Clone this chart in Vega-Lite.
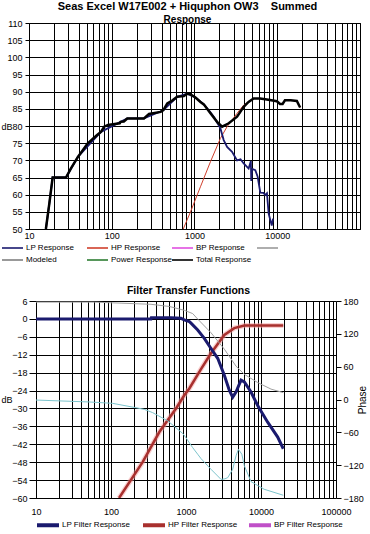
{
  "$schema": "https://vega.github.io/schema/vega-lite/v6.json",
  "padding": 0,
  "background": "white",
  "config": {
    "font": "Liberation Sans",
    "view": {"stroke": "black", "strokeWidth": 1},
    "axis": {
      "labelColor": "black", "tickColor": "black", "domainColor": "black",
      "gridColor": "black", "gridOpacity": 1, "gridWidth": 1,
      "titleColor": "black", "labelFont": "Liberation Sans", "titleFont": "Liberation Sans",
      "labelFontSize": 9, "titleFontWeight": "normal", "labelOverlap": false, "labelFlush": false
    },
    "legend": {"labelColor": "black", "labelFont": "Liberation Sans"},
    "title": {"color": "black", "subtitleColor": "black", "font": "Liberation Sans", "subtitleFont": "Liberation Sans"}
  },
  "datasets": {
    "resp": [
      {"s": "Total Response", "f": 16, "v": 50},
      {"s": "Total Response", "f": 17.6, "v": 57.4},
      {"s": "Total Response", "f": 19.3, "v": 65},
      {"s": "Total Response", "f": 28, "v": 65},
      {"s": "Total Response", "f": 32, "v": 67.6},
      {"s": "Total Response", "f": 39, "v": 71},
      {"s": "Total Response", "f": 51, "v": 74.9},
      {"s": "Total Response", "f": 66, "v": 77.3},
      {"s": "Total Response", "f": 74, "v": 78.3},
      {"s": "Total Response", "f": 81, "v": 79.8},
      {"s": "Total Response", "f": 90, "v": 80.3},
      {"s": "Total Response", "f": 125, "v": 80.8},
      {"s": "Total Response", "f": 128, "v": 81.2},
      {"s": "Total Response", "f": 140, "v": 81.3},
      {"s": "Total Response", "f": 154, "v": 82.2},
      {"s": "Total Response", "f": 245, "v": 82.2},
      {"s": "Total Response", "f": 282, "v": 83.5},
      {"s": "Total Response", "f": 390, "v": 84.1},
      {"s": "Total Response", "f": 420, "v": 84.6},
      {"s": "Total Response", "f": 469, "v": 86.6},
      {"s": "Total Response", "f": 538, "v": 87.4},
      {"s": "Total Response", "f": 617, "v": 88.5},
      {"s": "Total Response", "f": 743, "v": 88.7},
      {"s": "Total Response", "f": 813, "v": 89.4},
      {"s": "Total Response", "f": 880, "v": 89.3},
      {"s": "Total Response", "f": 1028, "v": 88.3},
      {"s": "Total Response", "f": 1180, "v": 87.0},
      {"s": "Total Response", "f": 1295, "v": 86.3},
      {"s": "Total Response", "f": 1559, "v": 83.7},
      {"s": "Total Response", "f": 1875, "v": 81.2},
      {"s": "Total Response", "f": 2156, "v": 79.8},
      {"s": "Total Response", "f": 2594, "v": 80.8},
      {"s": "Total Response", "f": 3269, "v": 82.7},
      {"s": "Total Response", "f": 3930, "v": 85.6},
      {"s": "Total Response", "f": 4500, "v": 87.0},
      {"s": "Total Response", "f": 5180, "v": 88.0},
      {"s": "Total Response", "f": 6200, "v": 88.0},
      {"s": "Total Response", "f": 7510, "v": 87.7},
      {"s": "Total Response", "f": 9900, "v": 87.2},
      {"s": "Total Response", "f": 10800, "v": 86.4},
      {"s": "Total Response", "f": 11600, "v": 86.4},
      {"s": "Total Response", "f": 12400, "v": 87.5},
      {"s": "Total Response", "f": 14500, "v": 87.5},
      {"s": "Total Response", "f": 17250, "v": 87.3},
      {"s": "Total Response", "f": 18900, "v": 85.4},

      {"s": "LP Response", "f": 16, "v": 50},
      {"s": "LP Response", "f": 17.6, "v": 57.4},
      {"s": "LP Response", "f": 19.3, "v": 65},
      {"s": "LP Response", "f": 28, "v": 65},
      {"s": "LP Response", "f": 39, "v": 71},
      {"s": "LP Response", "f": 74, "v": 78.3},
      {"s": "LP Response", "f": 154, "v": 82.2},
      {"s": "LP Response", "f": 245, "v": 82.2},
      {"s": "LP Response", "f": 420, "v": 84.6},
      {"s": "LP Response", "f": 617, "v": 88.5},
      {"s": "LP Response", "f": 813, "v": 89.4},
      {"s": "LP Response", "f": 1028, "v": 88.3},
      {"s": "LP Response", "f": 1295, "v": 86.3},
      {"s": "LP Response", "f": 1559, "v": 84.0},
      {"s": "LP Response", "f": 1710, "v": 82.7},
      {"s": "LP Response", "f": 2057, "v": 79.3},
      {"s": "LP Response", "f": 2254, "v": 75.9},
      {"s": "LP Response", "f": 2476, "v": 73.9},
      {"s": "LP Response", "f": 2843, "v": 72.5},
      {"s": "LP Response", "f": 3269, "v": 70.0},
      {"s": "LP Response", "f": 3600, "v": 70.3},
      {"s": "LP Response", "f": 3930, "v": 69.1},
      {"s": "LP Response", "f": 4510, "v": 67.6},
      {"s": "LP Response", "f": 4800, "v": 69.8},
      {"s": "LP Response", "f": 4850, "v": 64.0},
      {"s": "LP Response", "f": 4950, "v": 67.5},
      {"s": "LP Response", "f": 5430, "v": 67.1},
      {"s": "LP Response", "f": 5800, "v": 65.2},
      {"s": "LP Response", "f": 6240, "v": 60.6},
      {"s": "LP Response", "f": 6800, "v": 60.5},
      {"s": "LP Response", "f": 7160, "v": 59.9},
      {"s": "LP Response", "f": 7510, "v": 60.4},
      {"s": "LP Response", "f": 7870, "v": 54.5},
      {"s": "LP Response", "f": 8240, "v": 52.6},
      {"s": "LP Response", "f": 8580, "v": 51.0},
      {"s": "LP Response", "f": 8900, "v": 53.0},

      {"s": "HP Response", "f": 731, "v": 50},
      {"s": "HP Response", "f": 895, "v": 55},
      {"s": "HP Response", "f": 1180, "v": 62.3},
      {"s": "HP Response", "f": 1559, "v": 69.6},
      {"s": "HP Response", "f": 2057, "v": 76.4},
      {"s": "HP Response", "f": 2476, "v": 79.8},
      {"s": "HP Response", "f": 3269, "v": 83.7},
      {"s": "HP Response", "f": 3930, "v": 86.1},
      {"s": "HP Response", "f": 5180, "v": 88.0},
      {"s": "HP Response", "f": 6200, "v": 88.0},
      {"s": "HP Response", "f": 7510, "v": 87.7},
      {"s": "HP Response", "f": 9900, "v": 87.2},
      {"s": "HP Response", "f": 10800, "v": 86.4},
      {"s": "HP Response", "f": 11600, "v": 86.4},
      {"s": "HP Response", "f": 12400, "v": 87.5},
      {"s": "HP Response", "f": 14500, "v": 87.5},
      {"s": "HP Response", "f": 17250, "v": 87.3},
      {"s": "HP Response", "f": 18900, "v": 85.4}
    ],
    "filt": [
      {"s": "LP Filter Response", "f": 10, "v": 0},
      {"s": "LP Filter Response", "f": 341, "v": 0},
      {"s": "LP Filter Response", "f": 345, "v": 0.4},
      {"s": "LP Filter Response", "f": 631, "v": 0.4},
      {"s": "LP Filter Response", "f": 858, "v": 0.2},
      {"s": "LP Filter Response", "f": 949, "v": -0.3},
      {"s": "LP Filter Response", "f": 1108, "v": -0.9},
      {"s": "LP Filter Response", "f": 1166, "v": -1.4},
      {"s": "LP Filter Response", "f": 1432, "v": -3.7},
      {"s": "LP Filter Response", "f": 1755, "v": -6.5},
      {"s": "LP Filter Response", "f": 2154, "v": -9.9},
      {"s": "LP Filter Response", "f": 2646, "v": -13.2},
      {"s": "LP Filter Response", "f": 3243, "v": -18.9},
      {"s": "LP Filter Response", "f": 3777, "v": -23.9},
      {"s": "LP Filter Response", "f": 4195, "v": -26.2},
      {"s": "LP Filter Response", "f": 4642, "v": -24.5},
      {"s": "LP Filter Response", "f": 5412, "v": -20.5},
      {"s": "LP Filter Response", "f": 5995, "v": -21.1},
      {"s": "LP Filter Response", "f": 7356, "v": -24.5},
      {"s": "LP Filter Response", "f": 9028, "v": -29},
      {"s": "LP Filter Response", "f": 12270, "v": -34.6},
      {"s": "LP Filter Response", "f": 16700, "v": -39.6},
      {"s": "LP Filter Response", "f": 19820, "v": -43.5},

      {"s": "HP Filter Response", "f": 128, "v": -60},
      {"s": "HP Filter Response", "f": 264, "v": -48},
      {"s": "HP Filter Response", "f": 441, "v": -37.9},
      {"s": "HP Filter Response", "f": 736, "v": -30},
      {"s": "HP Filter Response", "f": 949, "v": -25.6},
      {"s": "HP Filter Response", "f": 1108, "v": -23.3},
      {"s": "HP Filter Response", "f": 1585, "v": -16.8},
      {"s": "HP Filter Response", "f": 2154, "v": -11.5},
      {"s": "HP Filter Response", "f": 3243, "v": -5.4},
      {"s": "HP Filter Response", "f": 4400, "v": -3.1},
      {"s": "HP Filter Response", "f": 5995, "v": -2.2},
      {"s": "HP Filter Response", "f": 9028, "v": -2.2},
      {"s": "HP Filter Response", "f": 19820, "v": -2.2},

      {"s": "HP Filter Phase", "f": 10, "v": 178},
      {"s": "HP Filter Phase", "f": 60, "v": 178},
      {"s": "HP Filter Phase", "f": 140, "v": 176},
      {"s": "HP Filter Phase", "f": 341, "v": 174},
      {"s": "HP Filter Phase", "f": 600, "v": 170},
      {"s": "HP Filter Phase", "f": 949, "v": 163},
      {"s": "HP Filter Phase", "f": 1228, "v": 157},
      {"s": "HP Filter Phase", "f": 1432, "v": 147},
      {"s": "HP Filter Phase", "f": 2154, "v": 122},
      {"s": "HP Filter Phase", "f": 3243, "v": 92},
      {"s": "HP Filter Phase", "f": 4642, "v": 61},
      {"s": "HP Filter Phase", "f": 5995, "v": 46},
      {"s": "HP Filter Phase", "f": 9028, "v": 31},
      {"s": "HP Filter Phase", "f": 13600, "v": 19},
      {"s": "HP Filter Phase", "f": 19820, "v": 12.5},

      {"s": "LP Filter Phase", "f": 10, "v": -1},
      {"s": "LP Filter Phase", "f": 51, "v": -4.5},
      {"s": "LP Filter Phase", "f": 105, "v": -7},
      {"s": "LP Filter Phase", "f": 215, "v": -15},
      {"s": "LP Filter Phase", "f": 278, "v": -18},
      {"s": "LP Filter Phase", "f": 359, "v": -24},
      {"s": "LP Filter Phase", "f": 570, "v": -39},
      {"s": "LP Filter Phase", "f": 903, "v": -62},
      {"s": "LP Filter Phase", "f": 1000, "v": -70},
      {"s": "LP Filter Phase", "f": 1228, "v": -88},
      {"s": "LP Filter Phase", "f": 1432, "v": -100},
      {"s": "LP Filter Phase", "f": 1585, "v": -108},
      {"s": "LP Filter Phase", "f": 2154, "v": -127.5},
      {"s": "LP Filter Phase", "f": 2640, "v": -139.7},
      {"s": "LP Filter Phase", "f": 2930, "v": -146},
      {"s": "LP Filter Phase", "f": 3300, "v": -145},
      {"s": "LP Filter Phase", "f": 3600, "v": -142.8},
      {"s": "LP Filter Phase", "f": 4195, "v": -127.5},
      {"s": "LP Filter Phase", "f": 4640, "v": -103},
      {"s": "LP Filter Phase", "f": 5000, "v": -91},
      {"s": "LP Filter Phase", "f": 5550, "v": -100},
      {"s": "LP Filter Phase", "f": 5995, "v": -121},
      {"s": "LP Filter Phase", "f": 7356, "v": -150},
      {"s": "LP Filter Phase", "f": 11000, "v": -164},
      {"s": "LP Filter Phase", "f": 19820, "v": -175}
    ]
  },
  "vconcat": [
    {
      "width": 331,
      "height": 206,
      "title": {
        "text": "Seas Excel W17E002 + Hiquphon OW3\u00a0\u00a0\u00a0\u00a0Summed",
        "subtitle": "Response",
        "fontSize": 11,
        "fontWeight": "bold",
        "subtitleFontSize": 10,
        "subtitleFontWeight": "bold",
        "anchor": "middle",
        "offset": -6,
        "subtitlePadding": 3,
        "dx": -7
      },
      "data": {"name": "resp"},
      "encoding": {
        "x": {
          "field": "f", "type": "quantitative",
          "scale": {"type": "log", "domain": [10, 100000], "nice": false},
          "axis": {
            "title": null,
            "values": [10,20,30,40,50,60,70,80,90,100,200,300,400,500,600,700,800,900,1000,2000,3000,4000,5000,6000,7000,8000,9000,10000,20000,30000,40000,50000,60000,70000,80000,90000,100000],
            "format": "d",
            "labelExpr": "indexof([10,100,1000,10000], datum.value) >= 0 ? datum.label : ''",
            "grid": true, "tickSize": 0, "domain": false, "labelPadding": 2
          }
        },
        "y": {
          "field": "v", "type": "quantitative",
          "scale": {"domain": [50, 110], "nice": false, "zero": false},
          "axis": {
            "values": [50,55,60,65,70,75,80,85,90,95,100,105,110],
            "grid": true, "tickSize": 4, "labelPadding": 3, "domain": false,
            "minExtent": 17, "maxExtent": 17,
            "title": "dB", "titleAngle": 0, "titleAlign": "right", "titleBaseline": "middle",
            "titlePadding": 0, "titleFontSize": 9
          }
        },
        "color": {
          "field": "s", "type": "nominal",
          "scale": {
            "domain": ["LP Response", "HP Response", "BP Response", " ", "Modeled", "Power Response", "Total Response"],
            "range": ["#1a1a6e", "#d0402c", "#e050e0", "#9a9a9a", "#808080", "#2e7d32", "#000000"]
          },
          "legend": {
            "title": null, "orient": "none", "legendX": -24.5, "legendY": 217,
            "direction": "horizontal",
            "columns": 4, "gridAlign": "all", "columnPadding": -4, "rowPadding": 0,
            "symbolType": "M-1.5,0H1.5", "symbolSize": 196, "symbolStrokeWidth": 1.6,
            "labelFontSize": 8, "labelOffset": 5.5
          }
        }
      },
      "layer": [
        {"transform": [{"filter": "datum.s == 'HP Response'"}], "mark": {"type": "line", "strokeWidth": 1, "clip": true}},
        {"transform": [{"filter": "datum.s == 'LP Response'"}], "mark": {"type": "line", "strokeWidth": 1.8, "clip": true}},
        {"transform": [{"filter": "datum.s == 'Total Response'"}], "mark": {"type": "line", "strokeWidth": 2.5, "clip": true}}
      ]
    },
    {
      "width": 307,
      "height": 197,
      "view": {"stroke": null},
      "title": {"text": "Filter Transfer Functions", "fontSize": 10.5, "fontWeight": "bold", "anchor": "middle", "offset": 1, "dx": 6},
      "data": {"name": "filt"},
      "layer": [
        {
          "encoding": {
            "x": {
              "field": "f", "type": "quantitative",
              "scale": {"type": "log", "domain": [8.065, 100000], "nice": false},
              "axis": {
                "title": null,
                "values": [10,20,30,40,50,60,70,80,90,100,200,300,400,500,600,700,800,900,1000,2000,3000,4000,5000,6000,7000,8000,9000,10000,20000,30000,40000,50000,60000,70000,80000,90000,100000],
                "format": "d",
                "labelExpr": "indexof([10,100,1000,10000,100000], datum.value) >= 0 ? datum.label : ''",
                "grid": true, "tickSize": 0, "domain": false, "labelPadding": 9
              }
            },
            "y": {
              "field": "v", "type": "quantitative",
              "scale": {"domain": [-60, 6], "nice": false, "zero": false},
              "axis": {
                "orient": "left",
                "offset": -7,
                "values": [-60,-54,-48,-42,-36,-30,-24,-18,-12,-6,0,6],
                "grid": true, "tickSize": 5, "labelPadding": 4, "domain": false,
                "minExtent": 24, "maxExtent": 24,
                "title": "dB", "titleAngle": 0, "titleAlign": "right", "titleBaseline": "middle",
                "titlePadding": 0, "titleFontSize": 9
              }
            },
            "color": {
              "field": "s", "type": "nominal",
              "scale": {
                "domain": ["LP Filter Response", "HP Filter Response", "BP Filter Response", "LP Filter Phase", "HP Filter Phase", "BP Filter Phase"],
                "range": ["#1a1a6e", "#a8302e", "#c050c8", "#a8dde6", "#a0a0a0", "#f0b0f0"]
              },
              "legend": {
                "title": null, "orient": "none", "legendX": 11.5, "legendY": 216.5,
                "direction": "horizontal",
                "columns": 3, "gridAlign": "all", "columnPadding": 3, "rowPadding": 0,
                "symbolType": "M-2,0H2", "symbolSize": 121, "symbolStrokeWidth": 4,
                "labelFontSize": 8, "labelOffset": 6.5
              }
            }
          },
          "layer": [
            {"transform": [{"filter": "datum.s == 'HP Filter Response'"}], "mark": {"type": "line", "strokeWidth": 5, "clip": true, "opacity": 0.5}, "encoding": {"color": {"value": "#f4a0a0"}}},
            {"transform": [{"filter": "datum.s == 'HP Filter Response'"}], "mark": {"type": "line", "strokeWidth": 2.5, "clip": true}},
            {"transform": [{"filter": "datum.s == 'LP Filter Response'"}], "mark": {"type": "line", "strokeWidth": 3, "clip": true}}
          ]
        },
        {
          "encoding": {
            "x": {"field": "f", "type": "quantitative", "scale": {"type": "log", "domain": [8.065, 100000], "nice": false}},
            "y": {
              "field": "v", "type": "quantitative",
              "scale": {"domain": [-180, 180], "nice": false, "zero": false},
              "axis": {
                "orient": "right",
                "values": [-180,-120,-60,0,60,120,180],
                "grid": false, "tickSize": 5, "labelPadding": 2, "domain": false,
                "title": "Phase", "titleAngle": 270, "titleFontSize": 10, "titlePadding": 4
              }
            },
            "color": {"field": "s", "type": "nominal"}
          },
          "layer": [
            {"transform": [{"filter": "datum.s == 'HP Filter Phase'"}], "mark": {"type": "line", "strokeWidth": 1, "clip": true}},
            {"transform": [{"filter": "datum.s == 'LP Filter Phase'"}], "mark": {"type": "line", "strokeWidth": 1, "clip": true}, "encoding": {"color": {"value": "#7cc4cc"}}}
          ]
        }
      ],
      "resolve": {"scale": {"y": "independent"}}
    }
  ],
  "spacing": 20,
  "resolve": {"scale": {"color": "independent", "x": "independent", "y": "independent"}, "legend": {"color": "independent"}}
}
